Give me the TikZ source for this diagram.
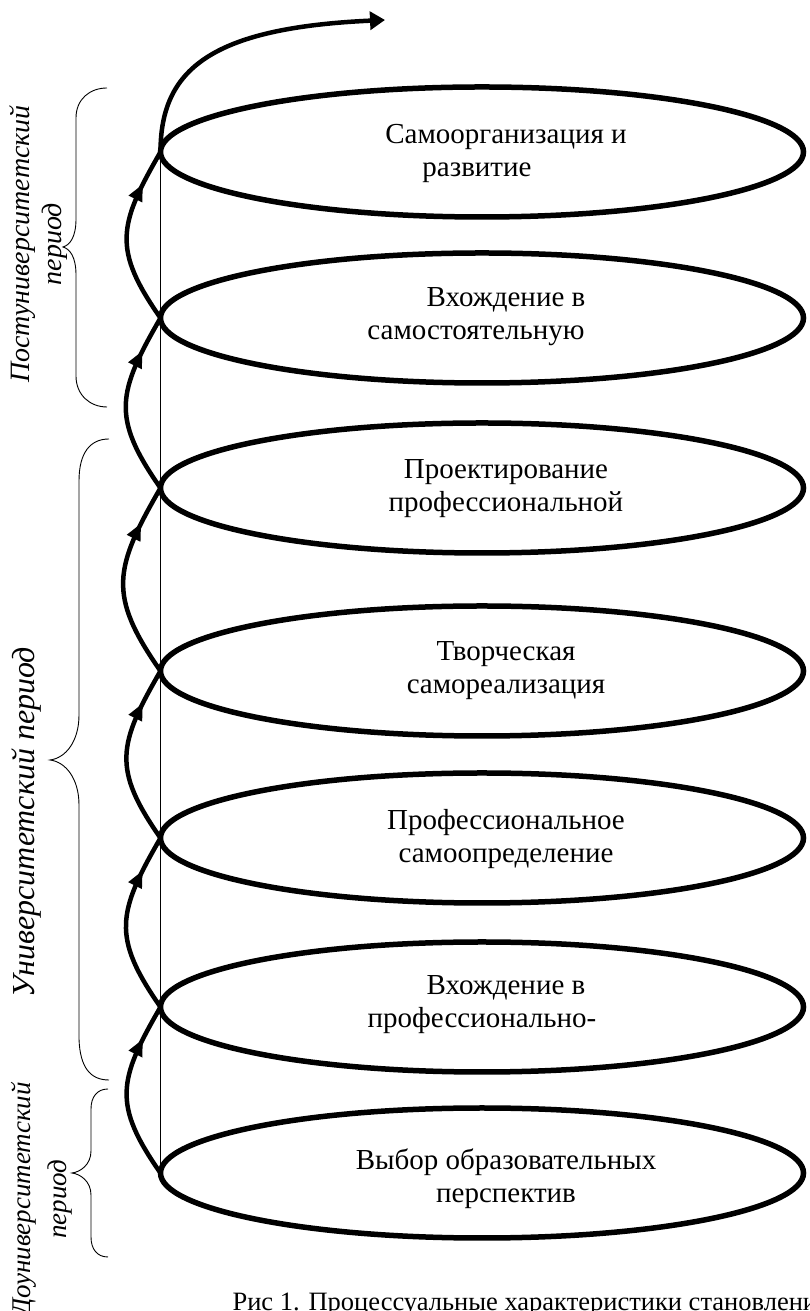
\documentclass[tikz,border=0pt]{standalone}
\usepackage{fontspec}
\setmainfont{Liberation Serif}
\usetikzlibrary{shapes.geometric,arrows.meta,decorations.markings}

\begin{document}
\begin{tikzpicture}[x=1pt,y=1pt,
    stage/.style={draw, ellipse, line width=5.5pt, minimum width=643pt, minimum height=130pt, outer sep=0pt},
    stagetext/.style={align=center, font=\fontsize{29}{33}\selectfont},
    spiral/.style={line width=4.5pt, postaction={decorate},
      decoration={markings, mark=at position 0.8 with {\arrow{Triangle[length=17pt,width=14pt]}}}},
    period/.style={rotate=90, align=center, font=\fontsize{28}{32}\selectfont\itshape},
    bracket/.style={line width=0.9pt}]
    \useasboundingbox (0,0) rectangle (809,1311);
    % stages, top to bottom
    \node[stage] (s1) at (482,1159) {};
    \node[stage] (s2) at (482,993) {};
    \node[stage] (s3) at (482,823) {};
    \node[stage] (s4) at (482,640) {};
    \node[stage] (s5) at (482,473) {};
    \node[stage] (s6) at (482,304) {};
    \node[stage] (s7) at (482,138) {};
    \node[stagetext] (s1txt) at (506,1157) {Самоорганизация и\\развитие\hspace*{58pt}};
    \node[stagetext] (s2txt) at (506,994) {Вхождение в\\самостоятельную\hspace*{60pt}};
    \node[stagetext] (s3txt) at (506,822) {Проектирование\\профессиональной};
    \node[stagetext] (s4txt) at (506,640) {Творческая\\самореализация};
    \node[stagetext] (s5txt) at (506,472) {Профессиональное\\самоопределение};
    \node[stagetext] (s6txt) at (506,306) {Вхождение в\\профессионально-\hspace*{48pt}};
    \node[stagetext] (s7txt) at (506,132) {Выбор образовательных\\перспектив};
    % axis and spiral
    \draw[line width=0.8pt] (s1.west) -- (s7.west);
    \draw[spiral] (s7.west) to[out=125,in=-120,looseness=1.3] (s6.west);
    \draw[spiral] (s6.west) to[out=125,in=-120,looseness=1.3] (s5.west);
    \draw[spiral] (s5.west) to[out=125,in=-120,looseness=1.3] (s4.west);
    \draw[spiral] (s4.west) to[out=125,in=-120,looseness=1.3] (s3.west);
    \draw[spiral] (s3.west) to[out=125,in=-120,looseness=1.3] (s2.west);
    \draw[spiral] (s2.west) to[out=125,in=-120,looseness=1.3] (s1.west);
    \coordinate (out) at (385,1291);
    \draw[line width=4.5pt, -{Triangle[length=15pt,width=18pt]}] (s1.west) .. controls +(0,82) and +(-175,-8) .. (out);
    % periods
    \draw[bracket] (107,1223) .. controls (90,1223) and (76,1212) .. (76,1193) -- (76,1092) .. controls (76,1074) and (70,1066) .. (63,1064) .. controls (70,1062) and (76,1054) .. (76,1036) -- (76,935) .. controls (76,916) and (90,904) .. (107,904);
    \draw[bracket] (109,872) .. controls (90,872) and (79,858) .. (79,830) -- (79,596) .. controls (79,570) and (66,553) .. (50,551) .. controls (66,549) and (79,532) .. (79,506) -- (79,272) .. controls (80,244) and (90,231) .. (109,231);
    \draw[bracket] (108,222) .. controls (97,222) and (91,214) .. (91,202) -- (91,160) .. controls (91,146) and (80,139) .. (72,138) .. controls (80,137) and (91,130) .. (91,116) -- (91,74) .. controls (91,62) and (97,54) .. (108,54);
    \node[period] (post) at (39,1067) {Постуниверситетский\\период};
    \node[period, font=\fontsize{32}{36}\selectfont\itshape] (univ) at (27,489) {Университетский период};
    \node[period, font=\fontsize{27}{36}\selectfont\itshape] (pre) at (42,112) {Доуниверситетский\\период};
    \node[anchor=base west, font=\fontsize{26.5}{32}\selectfont] (caption) at (229,1) {Рис 1. Процессуальные характеристики становления};
\end{tikzpicture}
\end{document}
